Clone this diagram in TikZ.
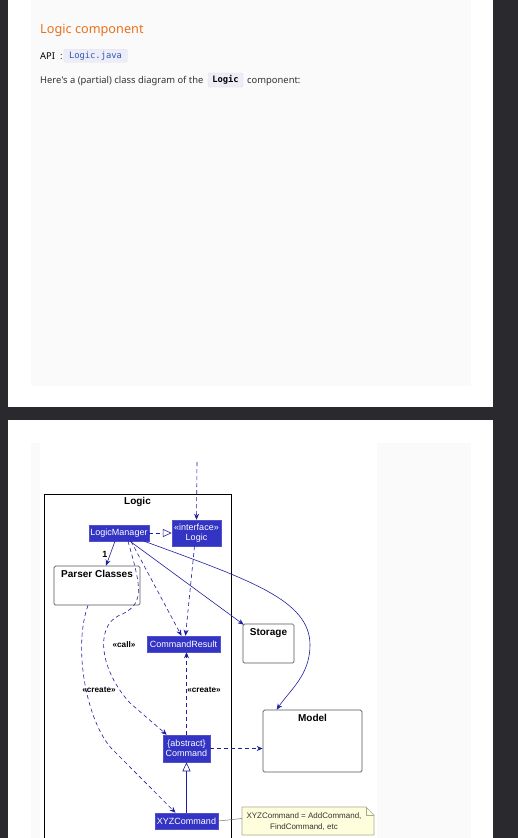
\documentclass[tikz,border=0pt]{standalone}
\usepackage{fontspec}
\setmainfont{Liberation Sans}
\newfontfamily\pagefont{Noto Sans}
\newfontfamily\codefont{DejaVu Sans Mono}
\usetikzlibrary{arrows.meta,calc}

\definecolor{pagebg}{HTML}{2A292E}
\definecolor{panelgrey}{HTML}{FAFAFB}
\definecolor{headorange}{HTML}{E8731E}
\definecolor{bodytext}{HTML}{333333}
\definecolor{codebg}{HTML}{EDEDF7}
\definecolor{codeedge}{HTML}{E0E0EE}
\definecolor{codeblue}{HTML}{3553B5}
\definecolor{logicfill}{HTML}{3333C4}
\definecolor{logicedge}{HTML}{5252CE}
\definecolor{linkblue}{HTML}{1E1EA0}
\definecolor{boxedge}{HTML}{555555}
\definecolor{notefill}{HTML}{FEFEDC}
\definecolor{noteedge}{HTML}{A8A890}

\tikzset{
  cls/.style={draw=logicedge, line width=0.5pt, fill=logicfill, text=white,
    font=\fontsize{9}{10}\selectfont, inner sep=0pt, align=center},
  pkgbox/.style={draw=boxedge, line width=0.7pt, fill=white, rounded corners=1.5pt, inner sep=0pt},
  pkgtitle/.style={font=\bfseries\fontsize{10}{12}\selectfont, inner sep=0pt, text=black},
  link/.style={draw=linkblue, line width=0.6pt},
  dep/.style={link, dash pattern=on 4pt off 3pt},
  tip/.style={-{Stealth[length=6pt,width=5pt,inset=2pt]}},
  real/.style={-{Triangle[open,length=9pt,width=8pt,fill=white]}},
  stereo/.style={font=\bfseries\fontsize{8.2}{9}\selectfont, inner sep=0pt, text=black},
  pagetext/.style={anchor=base west, inner sep=0pt, text=bodytext, font=\pagefont\fontsize{9.4}{11}\selectfont},
  codebox/.style={fill=codebg, draw=codeedge, line width=0.4pt, rounded corners=1.5pt, inner sep=0pt,
    font=\codefont\fontsize{8.8}{10}\selectfont},
}

\begin{document}
\begin{tikzpicture}[x=1pt,y=-1pt]
\useasboundingbox (0,0) rectangle (518,838);
\clip (0,0) rectangle (518,838);

% page backdrop and the two panels
\fill[pagebg] (0,0) rectangle (518,838);
\fill[white] (8,0) rectangle (493,407);
\fill[panelgrey] (31,0) rectangle (471,386);
\fill[white] (8,420) rectangle (493,838);
\fill[panelgrey] (31,443) rectangle (471,838);
\fill[white] (40,443) rectangle (377,838);

% section text
\node[anchor=base west, inner sep=0pt, text=headorange, font=\pagefont\fontsize{12.7}{15}\selectfont] (heading) at (40,33) {Logic component};
\node[pagetext, font=\pagefont\bfseries\fontsize{9.4}{11}\selectfont, text=black] (api) at (40,59) {API};
\node[pagetext] (apicolon) at (60,59) {:};
\node[codebox, text=codeblue, minimum width=63.5pt, minimum height=13pt] (apifile) at (95.5,55.7) {Logic.java};
\node[pagetext] (intro) at (40,83.5) {Here's a (partial) class diagram of the};
\node[codebox, text=black, font=\codefont\bfseries\fontsize{8.8}{10}\selectfont, minimum width=35pt, minimum height=14pt] (introcode) at (225.5,80) {Logic};
\node[pagetext] (introtail) at (247,83.5) {component:};

% Logic package frame
\draw[black, line width=0.8pt] (44,860) -- (44,494) -- (231,494) -- (231,860);
\node[pkgtitle] (logictitle) at (137.5,502) {Logic};

% classes
\node[cls, minimum width=60pt, minimum height=16pt] (lm) at (119,533) {LogicManager};
\node[cls, minimum width=49pt, minimum height=26pt] (logic) at (196.5,533) {«interface»\\Logic};
\node[cls, minimum width=73pt, minimum height=16pt] (result) at (183.5,644) {CommandResult};
\node[cls, minimum width=47pt, minimum height=27pt] (command) at (186.5,748.5) {\{abstract\}\\Command};
\node[cls, minimum width=63pt, minimum height=16pt] (xyz) at (186.5,821) {XYZCommand};

% packages
\node[pkgbox, minimum width=86pt, minimum height=39pt] (parser) at (97,585.5) {};
\node[pkgtitle] (parsertitle) at (97,574) {Parser Classes};
\node[pkgbox, minimum width=51pt, minimum height=39pt] (storage) at (268.5,643.5) {};
\node[pkgtitle] (storagetitle) at (268.5,633) {Storage};
\node[pkgbox, minimum width=99pt, minimum height=62pt] (model) at (312.5,741) {};
\node[pkgtitle] (modeltitle) at (312.5,718) {Model};

% note
\draw[fill=notefill, draw=noteedge, line width=0.6pt]
  (242,807) -- (366,807) -- (374,815) -- (374,835) -- (242,835) -- cycle;
\draw[draw=noteedge, line width=0.6pt] (366,807) -- (366,815) -- (374,815);
\node[inner sep=0pt, align=center, text=bodytext, font=\fontsize{8}{11}\selectfont] (note) at (304,821.5)
  {XYZCommand = AddCommand,\\FindCommand, etc};
\coordinate (notept) at (242,818.5);

% connectors
\coordinate (ext) at (197,462);
\draw[dep,tip] (ext) -- (logic.north);
\draw[dep,real] (lm.east) -- (logic.west);
\draw[link,tip] ($(lm.south)+(-4,0)$) -- ($(parser.north)+(9,0)$);
\node[inner sep=0pt, font=\bfseries\fontsize{9}{10}\selectfont] (mult) at (105,554) {1};
\draw[link,tip] ($(lm.south)+(11,0)$) -- ($(storage.north west)+(1,1)$);
\draw[link,tip] ($(lm.south east)+(-5,0)$)
  .. controls (250,580) and (310,600) .. (310,645)
  .. controls (310,675) and (290,690) .. ($(model.north west)+(14,0)$);
\draw[dep,tip] ($(lm.south)+(12,0)$) -- ($(result.north)+(-2,0)$);
\draw[dep,tip] ($(logic.south)+(-2,0)$) -- ($(result.north)+(2,0)$);
\draw[dep,tip] ($(lm.south)+(9,0)$)
  .. controls (142,590) and (145,605) .. (118,616)
  .. controls (95,628) and (100,670) .. (130,703)
  -- ($(command.north west)+(4,0)$);
\node[stereo] (calllabel) at (124,645) {«call»};
\draw[dep,tip] ($(parser.south)+(-9,0)$)
  .. controls (72,650) and (88,725) .. (113,750)
  -- ($(xyz.north)+(-11,0)$);
\node[stereo] (createlabel1) at (99,690) {«create»};
\draw[dep,tip] (command.north) -- (command.north |- result.south);
\node[stereo] (createlabel2) at (204,690) {«create»};
\draw[dep,tip] (command.east) -- (model.west |- command.east);
\draw[link,real] (xyz.north) -- (command.south);
\draw[draw=noteedge!70!black, line width=0.5pt] (xyz.east) -- (notept);

\end{tikzpicture}
\end{document}
